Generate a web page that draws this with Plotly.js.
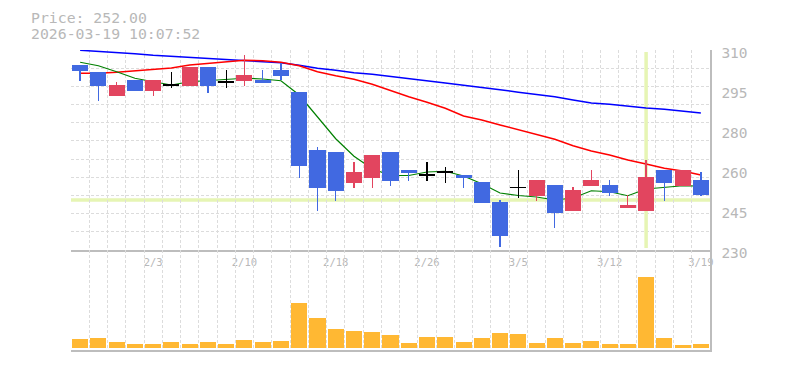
<!DOCTYPE html>
<html>
<head>
<meta charset="utf-8">
<script src="https://cdn.plot.ly/plotly-3.0.1.min.js"></script>
<style>html,body{margin:0;padding:0;background:#fff;}#chart{width:785px;height:370px;}</style>
</head>
<body>
<div id="chart"></div>
<script>
// ---- data ----
const dates = ['1/28','1/29','1/30','2/2','2/3','2/4','2/5','2/6','2/9','2/10','2/12','2/13','2/16','2/17','2/18','2/19','2/20','2/24','2/25','2/26','2/27','3/2','3/3','3/4','3/5','3/6','3/9','3/10','3/11','3/12','3/13','3/16','3/17','3/18','3/19'];
const open  = [304.0,301.1,291.6,298.0,293.6,296.0,295.6,303.2,297.2,297.7,298.0,302.1,293.2,270.0,269.2,256.9,258.9,269.2,262.0,260.0,261.2,260.0,257.2,249.3,255.1,251.7,256.0,245.7,255.7,256.0,246.8,245.7,262.0,255.7,258.0];
const high  = [304.0,301.1,297.2,298.0,298.0,301.3,303.3,303.2,302.1,308.0,302.1,304.7,293.2,271.1,269.2,265.2,268.0,269.2,262.0,265.2,263.2,260.0,257.2,250.1,262.0,258.0,256.0,255.2,262.0,258.0,252.0,266.0,262.0,262.0,261.2];
const low   = [297.7,289.7,291.6,293.6,291.6,294.9,295.6,292.9,295.0,295.6,296.9,298.0,258.9,245.7,249.7,254.9,254.9,255.7,257.7,257.7,256.9,254.9,248.9,231.1,250.9,249.7,238.9,245.7,255.7,251.7,246.8,245.7,249.7,255.7,251.7];
const close = [301.7,295.6,296.0,293.6,298.0,296.0,303.3,295.6,297.2,300.0,296.9,299.7,263.7,254.9,253.7,261.2,268.0,257.7,260.9,260.0,261.2,258.9,248.9,235.7,255.1,258.0,244.9,254.0,258.0,252.9,248.0,259.2,256.9,262.0,252.0];
const volume = [90,100,60,40,40,60,40,60,40,80,60,70,450,300,190,170,160,130,50,110,110,60,100,150,140,50,100,50,70,40,40,713,100,30,40];
const maShort = [305.1,303.7,301.3,298.7,297.3,296.0,297.3,297.7,298.0,298.7,298.4,297.7,292.0,283.3,274.5,267.5,262.5,259.8,259.8,261.2,261.5,259.6,256.5,252.8,251.8,251.2,250.0,250.8,253.7,253.3,251.7,254.4,254.9,255.7,255.6];
const maMid = [300.7,300.7,301.1,301.6,302.3,302.8,304.0,304.7,305.5,305.9,305.7,305.1,303.7,301.3,299.7,298.3,296.3,293.7,291.3,289.1,286.7,283.6,282.0,280.0,278.0,276.3,274.3,271.7,269.6,268.0,266.0,264.4,262.7,261.6,260.0];
const maLong = [309.9,309.5,309.2,308.5,307.9,307.5,307.1,306.7,306.1,306.0,305.5,304.9,303.9,302.7,301.9,300.9,300.3,299.5,298.7,297.7,296.8,295.9,295.1,294.1,293.1,292.3,291.3,290.0,288.8,288.3,287.5,286.8,286.3,285.6,284.8];
const xTickLabels = ['2/3','2/10','2/18','2/26','3/5','3/12','3/19'];
const priceTickVals = [230,246,262,278,294,310];
const priceTickText = ['230','245','260','280','295','310'];
const priceRange = [230,310];
const currentPrice = '252.00';
const timestamp = '2026-03-19 10:07:52';
const markPrice = 250;
const markDate = '3/16';

// ---- styling ----
const UP = '#e2455f', DOWN = '#4169e1', DOJI = '#000000';
const GRID = '#dcdcdc', AXIS = '#bdbdbd', TXT = '#b8b8b8';
const MONO = 'DejaVu Sans Mono, monospace';

const colors = open.map((o,i)=> close[i]>o ? UP : (close[i]<o ? DOWN : DOJI));
const minBody = 0.6;
const bodyBase = open.map((o,i)=> Math.abs(close[i]-o) < minBody ? Math.min(o,close[i]) - (minBody-Math.abs(close[i]-o))/2 : Math.min(o,close[i]));
const bodyLen = open.map((o,i)=> Math.max(Math.abs(close[i]-o), minBody));

const traces = [
  {type:'scatter', mode:'lines', x:dates, y:maLong, xaxis:'x', yaxis:'y', line:{color:'#0000ff', width:1.5}, hoverinfo:'skip'},
  {type:'scatter', mode:'lines', x:dates, y:maMid, xaxis:'x', yaxis:'y', line:{color:'#ff0000', width:1.5}, hoverinfo:'skip'},
  {type:'scatter', mode:'lines', x:dates, y:maShort, xaxis:'x', yaxis:'y', line:{color:'#008000', width:1.2}, hoverinfo:'skip'},
  {type:'bar', x:dates, base:low, y:high.map((h,i)=>h-low[i]), width:0.07, xaxis:'x', yaxis:'y3', marker:{color:colors, line:{width:0}}, hoverinfo:'skip'},
  {type:'bar', x:dates, base:bodyBase, y:bodyLen, width:0.88, xaxis:'x', yaxis:'y3', marker:{color:colors, line:{width:0}}, hoverinfo:'skip'},
  {type:'bar', x:dates, y:volume, width:0.88, xaxis:'x2', yaxis:'y2', marker:{color:'#ffb833', line:{width:0}}, hoverinfo:'skip'}
];

const catAxis = {
  type:'category', categoryorder:'array', categoryarray:dates, range:[-0.5, dates.length-0.5],
  tickson:'boundaries', tickmode:'array', tickvals:dates, ticktext:dates.map(d=> xTickLabels.includes(d) ? d : ''),
  showgrid:true, gridcolor:GRID, griddash:'3px,2px', gridwidth:1, tickangle:0,
  showline:true, linecolor:AXIS, linewidth:1.5, ticks:'', zeroline:false, fixedrange:true
};

const layout = {
  width:785, height:370,
  margin:{l:71, r:75, t:50, b:20, pad:0},
  paper_bgcolor:'#fff', plot_bgcolor:'#fff',
  showlegend:false, barmode:'overlay', bargap:0,
  font:{family:MONO, color:TXT},
  xaxis:Object.assign({}, catAxis, {anchor:'y', domain:[0,1], showticklabels:true, ticklabelstandoff:2, tickfont:{family:MONO, size:10.5, color:TXT}}),
  xaxis2:Object.assign({}, catAxis, {anchor:'y2', domain:[0,1], matches:'x', showticklabels:false}),
  yaxis:{domain:[1/3,1], anchor:'x', side:'right', range:priceRange, tickmode:'array', tickvals:priceTickVals, ticktext:priceTickText,
    showgrid:false, showline:true, linecolor:AXIS, linewidth:1.5, ticks:'', zeroline:false, fixedrange:true,
    ticklabelstandoff:7, ticklabelshift:3, tickfont:{family:MONO, size:14.5, color:TXT},
    minor:{tick0:priceRange[0], dtick:(priceRange[1]-priceRange[0])/11, showgrid:true, gridcolor:GRID, griddash:'3px,2px', gridwidth:1, ticks:''}},
  yaxis3:{overlaying:'y', anchor:'x', side:'right', range:priceRange, visible:false, showgrid:false, fixedrange:true},
  yaxis2:{domain:[0,1/3], anchor:'x2', side:'right', range:[-20,980], showgrid:false, showline:true, linecolor:AXIS, linewidth:1.5,
    showticklabels:false, ticks:'', zeroline:false, fixedrange:true},
  shapes:[
    {type:'line', xref:'paper', x0:0, x1:1, yref:'y', y0:markPrice, y1:markPrice, line:{color:'#e6f5b4', width:3.5}, layer:'between'},
    {type:'line', xref:'x', x0:markDate, x1:markDate, yref:'y', y0:priceRange[0]+0.8, y1:priceRange[1]-0.8, line:{color:'#e6f5b4', width:3.5}, layer:'between'}
  ],
  annotations:[
    {xref:'paper', yref:'paper', x:-41/639, y:(350-18)/300, xanchor:'left', yanchor:'middle', showarrow:false, text:'Price: '+currentPrice, font:{family:MONO, size:14.8, color:TXT}, borderpad:0},
    {xref:'paper', yref:'paper', x:-41/639, y:(350-33)/300, xanchor:'left', yanchor:'middle', showarrow:false, text:timestamp, font:{family:MONO, size:14.8, color:TXT}, borderpad:0}
  ]
};

Plotly.newPlot('chart', traces, layout, {displayModeBar:false, staticPlot:true});
</script>
</body>
</html>
